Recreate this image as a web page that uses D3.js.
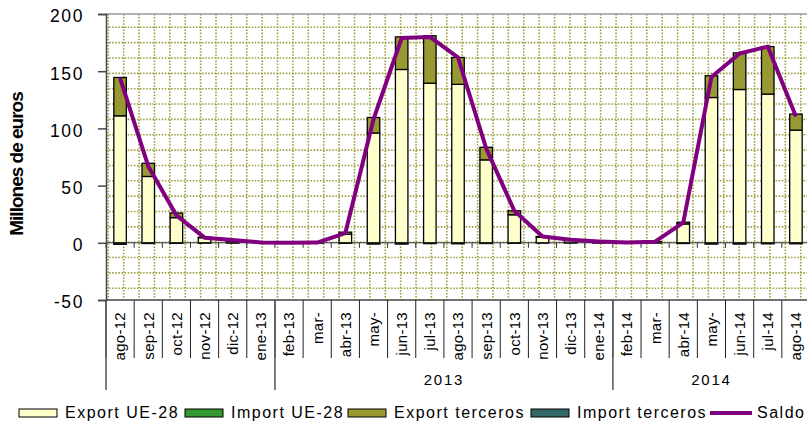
<!DOCTYPE html>
<html>
<head>
<meta charset="utf-8">
<script src="https://cdn.jsdelivr.net/npm/d3@7"></script>
<style>
  body { margin: 0; background: #fff; }
  text { font-family: "Liberation Sans", Arial, sans-serif; fill: #000; }
</style>
</head>
<body>
<svg id="chart" width="807" height="425"></svg>
<script>
const months = ['ago-12','sep-12','oct-12','nov-12','dic-12','ene-13','feb-13','mar-','abr-13','may-','jun-13','jul-13',
                'ago-13','sep-13','oct-13','nov-13','dic-13','ene-14','feb-14','mar-','abr-14','may-','jun-14','jul-14','ago-14'];
const exportUE  = [111, 58, 22, 4.5, 1.5, 0.3, 0, 0.2, 7.5, 96, 151.5, 139.5, 138.5, 72.5, 24.5, 5, 2, 1, 0.2, 0.8, 16.5, 127, 134, 130, 98.5];
const importUE  = [-1, -0.5, -0.4, -0.3, -0.2, -0.1, -0.1, -0.1, -0.3, -0.8, -0.8, -0.5, -0.6, -0.5, -0.3, -0.2, -0.1, -0.1, -0.1, -0.1, -0.5, -0.8, -0.8, -0.6, -0.6];
const exportTer = [33.5, 11.5, 4, 0.4, 0.5, 0.1, 0, 0, 1.8, 13.5, 28.5, 41.5, 23.5, 11, 3.5, 0.5, 0.4, 0.2, 0.1, 0.2, 1.5, 19, 32, 41.5, 14];
const importTer = [-0.2, -0.1, -0.1, 0, 0, 0, 0, 0, -0.1, -0.2, -0.2, -0.2, -0.2, -0.1, -0.1, 0, 0, 0, 0, 0, -0.1, -0.2, -0.2, -0.2, -0.2];
const saldo     = [144, 67, 24, 4.5, 2.5, 0.3, 0, 0.2, 8.5, 108, 179, 180, 162, 82.5, 28, 5.5, 2.6, 1.2, 0.3, 1, 17.7, 145, 165.5, 171.5, 110.5];
const years = [{label: '', from: 0, to: 6}, {label: '2013', from: 6, to: 18}, {label: '2014', from: 18, to: 25}];
const yTicks = [-50, 0, 50, 100, 150, 200];

const series = [
  {key: 'Export UE-28', values: exportUE, color: '#ffffcc'},
  {key: 'Import UE-28', values: importUE, color: '#339933'},
  {key: 'Export terceros', values: exportTer, color: '#999933'},
  {key: 'Import terceros', values: importTer, color: '#336666'}
];

const plotL = 106, plotR = 810, plotT = 14, plotB = 300;
const svg = d3.select('#chart');

const x = d3.scaleBand().domain(d3.range(months.length)).range([plotL, plotR]);
const y = d3.scaleLinear().domain([-50, 200]).range([plotB, plotT]);

// dotted background grid (excel pattern)
const grid = svg.append('g').attr('stroke', '#9c9c38').attr('stroke-width', 1.6).attr('stroke-dasharray', '1.5,1.6');
d3.range(108.3, plotR - 2, 15.387).forEach(gx => {
  grid.append('line').attr('x1', gx).attr('x2', gx).attr('y1', plotT).attr('y2', plotB);
});
d3.range(27.3, plotB - 2, 15.35).forEach(gy => {
  grid.append('line').attr('x1', plotL).attr('x2', plotR).attr('y1', gy).attr('y2', gy);
});

// top border
svg.append('line').attr('x1', plotL).attr('x2', plotR).attr('y1', plotT).attr('y2', plotT)
  .attr('stroke', '#999').attr('stroke-width', 1.5);

// stacked bars
const table = months.map((m, i) => {
  const row = {i: i};
  series.forEach(s => { row[s.key] = s.values[i]; });
  return row;
});
const stacked = d3.stack().keys(series.map(s => s.key)).offset(d3.stackOffsetDiverging)(table);
const barW = 12.5;
stacked.forEach((layer, li) => {
  svg.append('g').selectAll('rect')
    .data(layer)
  .enter().append('rect')
    .attr('x', d => x(d.data.i) + x.bandwidth() / 2 - barW / 2)
    .attr('y', d => y(Math.max(d[0], d[1])))
    .attr('width', barW)
    .attr('height', d => Math.abs(y(d[0]) - y(d[1])))
    .attr('fill', series[li].color)
    .attr('stroke', '#000')
    .attr('stroke-width', 1.3);
});

// zero line with ticks
const zero = svg.append('g').attr('transform', 'translate(0,' + y(0) + ')');
zero.append('line').attr('x1', plotL).attr('x2', plotR).attr('stroke', '#333').attr('stroke-width', 1);
zero.selectAll('.tk').data(d3.range(months.length)).enter().append('line')
  .attr('x1', d => x(d)).attr('x2', d => x(d)).attr('y1', 0).attr('y2', 5)
  .attr('stroke', '#333');

// saldo line
const line = d3.line()
  .x((d, i) => x(i) + x.bandwidth() / 2)
  .y(d => y(d));
svg.append('path').datum(saldo)
  .attr('d', line)
  .attr('fill', 'none')
  .attr('stroke', '#800080')
  .attr('stroke-width', 4)
  .attr('stroke-linejoin', 'round');

// y axis
const yAxis = d3.axisLeft(y).tickValues(yTicks).tickSize(8).tickPadding(14)
  .tickFormat(d => String(d));
const ya = svg.append('g').attr('transform', 'translate(' + plotL + ',0)').call(yAxis);
ya.select('.domain').attr('stroke', '#444').attr('stroke-width', 1.5);
ya.selectAll('.tick line').attr('stroke', '#444').attr('stroke-width', 1.5);
ya.selectAll('.tick text')
  .attr('font-size', 17.5).attr('letter-spacing', 1.6).attr('dy', '0.45em')
  .style('font-family', '"Liberation Sans", Arial, sans-serif');

svg.append('text')
  .attr('transform', 'translate(23,164) rotate(-90)')
  .attr('text-anchor', 'middle')
  .attr('font-size', 19).attr('font-weight', 'bold').attr('letter-spacing', -1)
  .text('Millones de euros');

// category axis (multi level)
svg.append('line').attr('x1', plotL).attr('x2', plotR).attr('y1', plotB).attr('y2', plotB)
  .attr('stroke', '#444').attr('stroke-width', 1.5);
svg.append('g').selectAll('line')
  .data(d3.range(months.length))
.enter().append('line')
  .attr('x1', d => x(d)).attr('x2', d => x(d))
  .attr('y1', plotB).attr('y2', 358)
  .attr('stroke', '#222');
svg.append('g').selectAll('text')
  .data(months)
.enter().append('text')
  .attr('transform', (d, i) => 'translate(' + (x(i) + x.bandwidth() / 2) + ',312) rotate(-90)')
  .attr('text-anchor', 'end')
  .attr('dy', '0.36em')
  .attr('font-size', 15).attr('letter-spacing', 0.3)
  .text(d => d);
svg.append('g').selectAll('line')
  .data(years)
.enter().append('line')
  .attr('x1', d => x(d.from)).attr('x2', d => x(d.from))
  .attr('y1', plotB).attr('y2', 390)
  .attr('stroke', '#555').attr('stroke-width', 1.5);
svg.append('g').selectAll('text')
  .data(years)
.enter().append('text')
  .attr('x', d => (x(d.from) + (d.to < months.length ? x(d.to) : plotR)) / 2)
  .attr('y', 385)
  .attr('text-anchor', 'middle')
  .attr('font-size', 15).attr('letter-spacing', 1.8)
  .text(d => d.label);

// legend
const legendX = [19, 185, 348, 531];
const lg = svg.append('g');
series.forEach((s, i) => {
  lg.append('rect').attr('x', legendX[i]).attr('y', 409).attr('width', 38).attr('height', 8)
    .attr('fill', s.color).attr('stroke', '#000').attr('stroke-width', 1);
  lg.append('text').attr('x', legendX[i] + 46).attr('y', 418)
    .attr('font-size', 16).attr('letter-spacing', 1.5).text(s.key);
});
lg.append('line').attr('x1', 710).attr('x2', 752).attr('y1', 413).attr('y2', 413)
  .attr('stroke', '#800080').attr('stroke-width', 4);
lg.append('text').attr('x', 757).attr('y', 418)
  .attr('font-size', 16).attr('letter-spacing', 1.5).text('Saldo');
</script>
</body>
</html>
